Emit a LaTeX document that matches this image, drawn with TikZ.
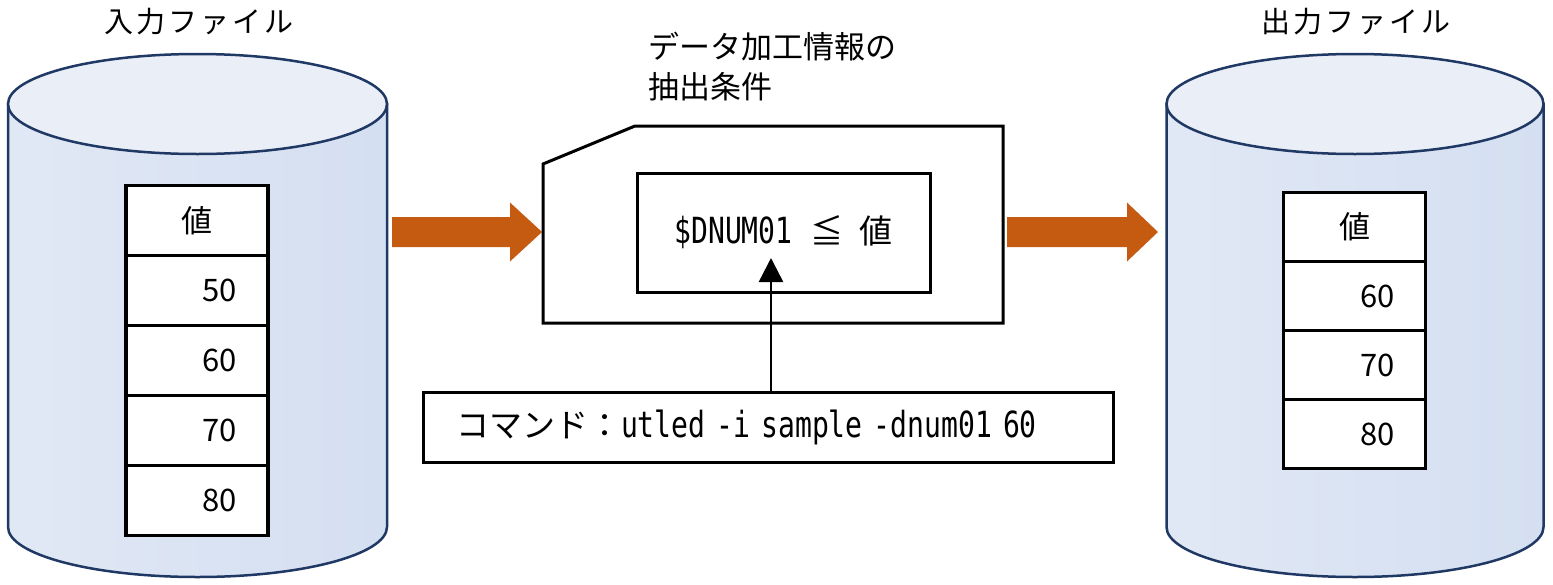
\documentclass[tikz,border=0pt]{standalone}
\usepackage{fontspec}
\setmainfont{Noto Sans CJK JP}
\newfontfamily\codefont[FakeStretch=0.78]{DejaVu Sans Mono}
\usetikzlibrary{positioning,arrows.meta}

\definecolor{drumline}{RGB}{32,56,100}
\definecolor{drumedge}{RGB}{225,232,245}
\definecolor{drummid}{RGB}{193,209,235}
\definecolor{drumright}{RGB}{212,223,241}
\definecolor{toplight}{RGB}{233,238,247}
\definecolor{topmid}{RGB}{216,225,242}
\definecolor{flow}{RGB}{197,90,17}

\tikzset{
    cell/.style={draw, line width=3.5pt, fill=white, minimum width=142, minimum height=70,
        inner sep=0, outer sep=0, font=\fontsize{31pt}{36pt}\selectfont},
    numcell/.style={cell, text width=80, align=right},
    filelabel/.style={font=\fontsize{29pt}{36pt}\selectfont\addfontfeature{LetterSpace=10}},
    frame/.style={draw, line width=3pt, outer sep=0}
}

% cylinder: centre x, half width
\newcommand{\datadrum}[2]{
    \shadedraw[draw=drumline, line width=2.5pt, left color=drumedge, middle color=drummid, right color=drumright]
        (#1-#2,104) -- (#1-#2,527) arc[start angle=180, end angle=0, x radius=#2, y radius=50] -- (#1+#2,104) -- cycle;
    \shadedraw[draw=drumline, line width=2.5pt, left color=toplight, middle color=topmid, right color=toplight]
        (#1,104) ellipse[x radius=#2, y radius=50];
}

\begin{document}
\begin{tikzpicture}[x=1pt, y=-1pt]
    \useasboundingbox (0,0) rectangle (1553,584);

    % input file
    \datadrum{197.5}{189.5}
    \node[filelabel] (inlabel) at (199,22) {入力ファイル};
    \node[cell] (in0) at (197,220.5) {値};
    \node[numcell, below=0pt of in0] (in1) {50};
    \node[numcell, below=0pt of in1] (in2) {60};
    \node[numcell, below=0pt of in2] (in3) {70};
    \node[numcell, below=0pt of in3] (in4) {80};

    % output file
    \datadrum{1355}{188.5}
    \node[filelabel] (outlabel) at (1356,22) {出力ファイル};
    \node[cell, minimum height=69] (out0) at (1354.5,227) {値};
    \node[numcell, minimum height=69, below=0pt of out0] (out1) {60};
    \node[numcell, minimum height=69, below=0pt of out1] (out2) {70};
    \node[numcell, minimum height=69, below=0pt of out2] (out3) {80};

    % flow arrows
    \fill[flow] (392,217) -- ++(118,0) -- ++(0,-14.5) -- ++(32,29.5) -- ++(-32,29.5) -- ++(0,-14.5) -- ++(-118,0) -- cycle;
    \fill[flow] (1007,217) -- ++(120,0) -- ++(0,-14.5) -- ++(31,29.5) -- ++(-31,29.5) -- ++(0,-14.5) -- ++(-120,0) -- cycle;

    % condition card
    \node[anchor=west, align=left, inner sep=0, font=\fontsize{31pt}{40pt}\selectfont] (cardlabel) at (648,67) {データ加工情報の\\抽出条件};
    \draw[line width=3pt, line join=miter] (543,164) -- (635,126) -- (1003,126) -- (1003,323) -- (543,323) -- cycle;
    \node[frame, minimum width=293, minimum height=119, font=\fontsize{33pt}{40pt}\selectfont] (cond) at (783.5,232.5)
        {{\codefont\fontsize{36pt}{40pt}\selectfont\$DNUM01}\hspace{18pt}≦\hspace{16pt}値};

    % command
    \node[frame, minimum height=70, text width=624, inner xsep=33, align=left, font=\fontsize{33pt}{40pt}\selectfont] (cmd) at (768,427)
        {コマンド：{\codefont\fontsize{36pt}{40pt}\selectfont utled -i sample -dnum01 60}};
    \coordinate (tip) at (771,258);
    \draw[line width=2.5pt, -{Triangle[length=24pt, width=24pt]}] (cmd.north -| tip) -- (tip);
\end{tikzpicture}
\end{document}
